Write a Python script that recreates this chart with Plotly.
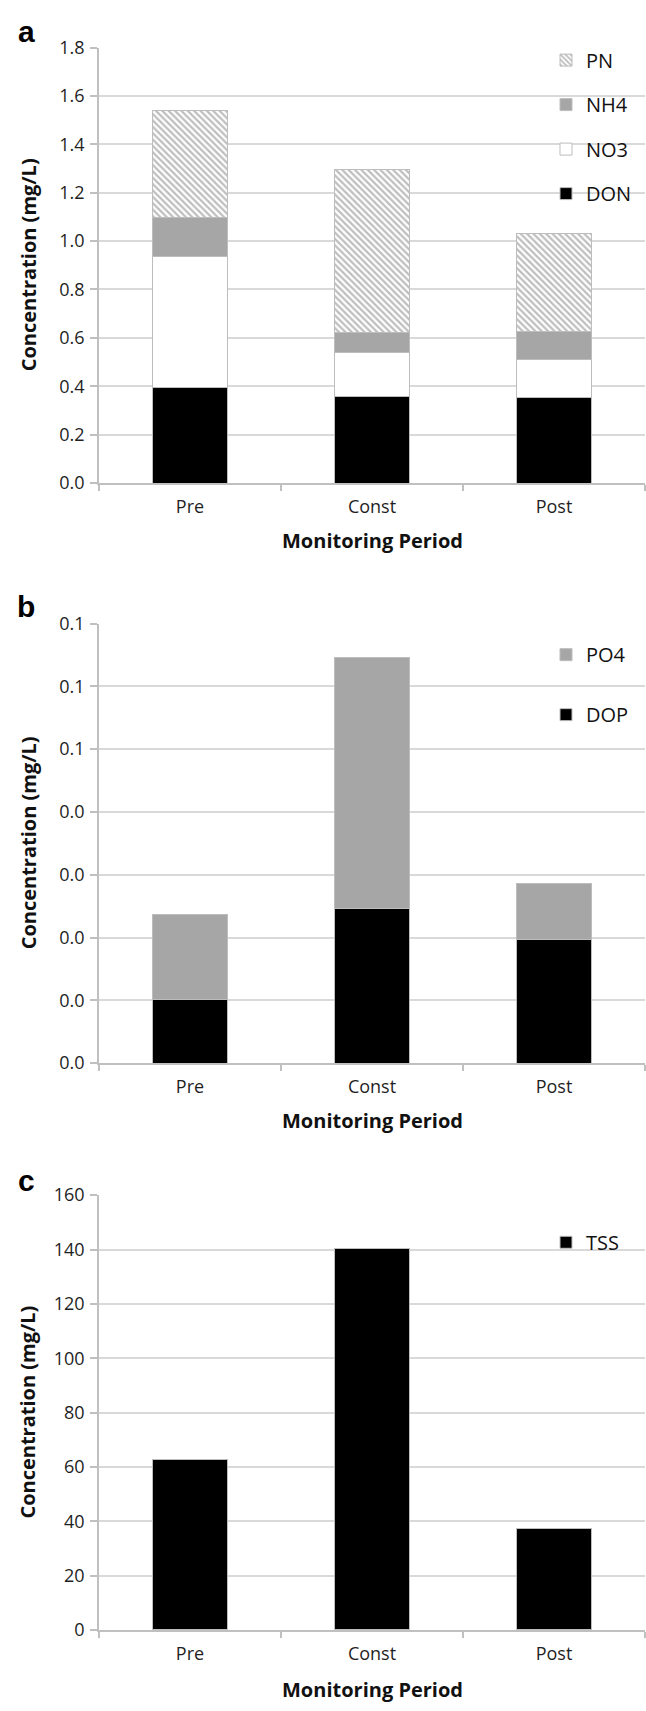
import plotly.graph_objects as go

periods = ["Pre", "Const", "Post"]

# Panel a: nitrogen species (mg/L)
don = [0.394, 0.356, 0.352]
no3 = [0.543, 0.183, 0.158]
nh4 = [0.161, 0.084, 0.116]
pn = [0.440, 0.672, 0.405]
a_tickvals = [0.0, 0.2, 0.4, 0.6, 0.8, 1.0, 1.2, 1.4, 1.6, 1.8]

# Panel b: phosphorus species (mg/L)
dop = [0.0101, 0.0247, 0.0197]
po4 = [0.0136, 0.0399, 0.0089]
b_tickvals = [0.0, 0.01, 0.02, 0.03, 0.04, 0.05, 0.06, 0.07]
b_ticktext = ["0.0", "0.0", "0.0", "0.0", "0.0", "0.1", "0.1", "0.1"]

# Panel c: total suspended solids (mg/L)
tss = [62.6, 140.5, 37.5]
c_tickvals = [0, 20, 40, 60, 80, 100, 120, 140, 160]

W, H = 646, 1711
FONT = "Open Sans"
TXT = "#1f1f1f"
LINE = "#c0c0c0"
GRID = "#d9d9d9"
BORDER = dict(color="#bdbdbd", width=1)

def px(x):
    return x / W

def py(y):
    return 1 - y / H

fig = go.Figure()

# Panel a traces
fig.add_trace(go.Bar(x=periods, y=don, name="DON", marker=dict(color="#000000", line=BORDER),
                     xaxis="x", yaxis="y", legend="legend", legendgroup="DON", legendrank=4))
fig.add_trace(go.Bar(x=periods, y=no3, name="NO3", marker=dict(color="#ffffff", line=BORDER),
                     xaxis="x", yaxis="y", legend="legend", legendgroup="NO3", legendrank=3))
fig.add_trace(go.Bar(x=periods, y=nh4, name="NH4", marker=dict(color="#a6a6a6", line=BORDER),
                     xaxis="x", yaxis="y", legend="legend", legendgroup="NH4", legendrank=2))
fig.add_trace(go.Bar(x=periods, y=pn, name="PN",
                     marker=dict(color="#ffffff", line=BORDER,
                                 pattern=dict(shape="\\", fgcolor="#7d7d7d", bgcolor="#ffffff",
                                              size=4.5, solidity=0.5)),
                     xaxis="x", yaxis="y", legend="legend", legendgroup="PN", legendrank=1))

# Panel b traces
fig.add_trace(go.Bar(x=periods, y=dop, name="DOP", marker=dict(color="#000000", line=BORDER),
                     xaxis="x2", yaxis="y2", legend="legend2", legendgroup="DOP", legendrank=2))
fig.add_trace(go.Bar(x=periods, y=po4, name="PO4", marker=dict(color="#a6a6a6", line=BORDER),
                     xaxis="x2", yaxis="y2", legend="legend2", legendgroup="PO4", legendrank=1))

# Panel c traces
fig.add_trace(go.Bar(x=periods, y=tss, name="TSS", marker=dict(color="#000000", line=BORDER),
                     xaxis="x3", yaxis="y3", legend="legend3", legendgroup="TSS", legendrank=1))

xdom = [px(99), px(645)]
doms = {
    "a": [py(476.7), py(35)],
    "b": [py(1065), py(619.3)],
    "c": [py(1640), py(1199)],
}

def xaxis_cfg(anchor):
    return dict(domain=xdom, anchor=anchor, showline=True, linecolor=LINE, linewidth=1.5,
                ticks="outside", tickson="boundaries", ticklen=6, tickcolor=LINE, tickwidth=1.5,
                showgrid=False, tickfont=dict(family=FONT, size=18, color=TXT),
                ticklabelstandoff=7, fixedrange=True)

def yaxis_cfg(anchor, dom, rng, tickvals, ticktext=None, fmt=None):
    d = dict(domain=dom, anchor=anchor, range=rng, showline=True, linecolor=LINE, linewidth=1.5,
             ticks="outside", ticklen=7, tickcolor=LINE, tickwidth=1.5,
             showgrid=True, gridcolor=GRID, gridwidth=1.5, zeroline=False,
             tickmode="array", tickvals=tickvals,
             tickfont=dict(family=FONT, size=18, color=TXT), ticklabelstandoff=2)
    if ticktext is not None:
        d["ticktext"] = ticktext
    if fmt is not None:
        d["tickformat"] = fmt
    return d

legend_common = dict(xanchor="left", yanchor="top", bgcolor="rgba(0,0,0,0)",
                     font=dict(family=FONT, size=20, color="#111111"),
                     traceorder="grouped", itemclick=False, itemdoubleclick=False)

fig.update_layout(
    width=W, height=H,
    margin=dict(l=0, r=0, t=0, b=0),
    paper_bgcolor="white", plot_bgcolor="white",
    barmode="stack", bargap=0.59,
    showlegend=True,
    xaxis=xaxis_cfg("y"),
    yaxis=yaxis_cfg("x", doms["a"], [0, 1.8], a_tickvals, fmt=".1f"),
    xaxis2=xaxis_cfg("y2"),
    yaxis2=yaxis_cfg("x2", doms["b"], [0, 0.07], b_tickvals, ticktext=b_ticktext),
    xaxis3=xaxis_cfg("y3"),
    yaxis3=yaxis_cfg("x3", doms["c"], [0, 160], c_tickvals),
    legend=dict(x=px(546), y=py(28), tracegroupgap=15.5, **legend_common),
    legend2=dict(x=px(546), y=py(631), tracegroupgap=31, **legend_common),
    legend3=dict(x=px(546), y=py(1227), tracegroupgap=17, **legend_common),
)

annotations = []
# Panel letters
for letter, y in [("a", 19), ("b", 602), ("c", 1184)]:
    annotations.append(dict(text=f"<b>{letter}</b>", x=px(26), y=py(y), xref="paper", yref="paper",
                            showarrow=False, xanchor="center", yanchor="middle",
                            font=dict(family="Liberation Sans", size=30, color="#000000")))
# Axis titles
for (top, bot), xt_y in [((35, 476.7), 535), ((619.3, 1065), 1123), ((1199, 1640), 1700)]:
    annotations.append(dict(text="<b>Concentration (mg/L)</b>", x=px(28), y=py((top + bot) / 2),
                            xref="paper", yref="paper", showarrow=False, textangle=-90,
                            xanchor="center", yanchor="middle",
                            font=dict(family=FONT, size=20, color="#111111")))
    annotations.append(dict(text="<b>Monitoring Period</b>", x=px(372), y=py(xt_y),
                            xref="paper", yref="paper", showarrow=False,
                            xanchor="center", yanchor="middle",
                            font=dict(family=FONT, size=20, color="#111111")))
fig.update_layout(annotations=annotations)

fig.write_html("out.html")
